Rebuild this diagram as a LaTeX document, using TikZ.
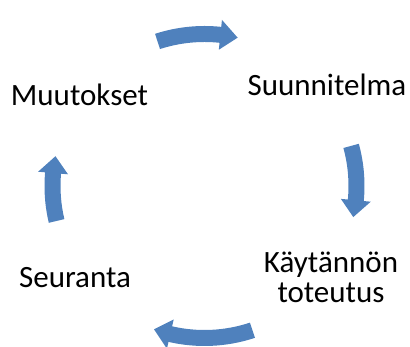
\documentclass[tikz,border=0pt]{standalone}
\usepackage{fontspec}
\setmainfont{Carlito}
\definecolor{cycleblue}{RGB}{79,129,189}
\begin{document}
\begin{tikzpicture}[x=1pt,y=1pt]
      \useasboundingbox (0,0) rectangle (410,347);
      % curved arrows round the cycle
      \fill[cycleblue, shift={(204.5,161)}] (108:144) arc[start angle=108, end angle=84, radius=144] -- (84:137) -- (77.4:152) -- (84:167) -- (84:160) arc[start angle=84, end angle=108, radius=160] -- cycle;
      \fill[cycleblue, shift={(204.5,161)}] (15.3:144) arc[start angle=15.3, end angle=-5.4, radius=144] -- (-5.4:137) -- (-11.8:152) -- (-5.4:167) -- (-5.4:160) arc[start angle=-5.4, end angle=15.3, radius=160] -- cycle;
      \fill[cycleblue, shift={(204.5,161)}] (-71.6:144) arc[start angle=-71.6, end angle=-103, radius=144] -- (-103:137) -- (-109.4:152) -- (-103:167) -- (-103:160) arc[start angle=-103, end angle=-71.6, radius=160] -- cycle;
      \fill[cycleblue, shift={(204.5,161)}] (193.3:144) arc[start angle=193.3, end angle=175.1, radius=144] -- (175.1:137) -- (168.7:152) -- (175.1:167) -- (175.1:160) arc[start angle=175.1, end angle=193.3, radius=160] -- cycle;

      \node[anchor=base, inner sep=0, font=\fontsize{31}{30}\selectfont] (muutokset) at (79.5,241) {Muutokset};
      \node[anchor=base, inner sep=0, font=\fontsize{31}{30}\selectfont] (suunnitelma) at (327,251) {Suunnitelma};
      \node[anchor=base, inner sep=0, align=center, font=\fontsize{31}{30}\selectfont] (kaytanto) at (331,44) {Käytännön\\toteutus};
      \node[anchor=base, inner sep=0, font=\fontsize{31}{30}\selectfont] (seuranta) at (75,59) {Seuranta};

    \end{tikzpicture}
\end{document}
